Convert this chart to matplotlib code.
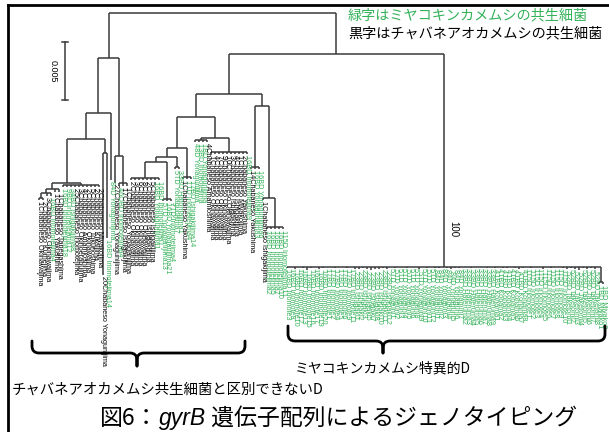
import matplotlib.pyplot as plt
from matplotlib.path import Path
from matplotlib.patches import PathPatch

plt.rcParams['font.family'] = ['Noto Sans CJK JP', 'DejaVu Sans']

GREEN = '#35b25a'
LINE = '#3a3a3a'
LABEL_FONT = 'Liberation Sans'

# gyrB tree, left part (Newick, branch lengths in substitutions/site)
newick_a = """
(
 (
  (
   (
    (
     (
      (1Chabaneso_Okinawajima:0.00017, 2Chabaneso_Kumejima:0.00017):0.00043,
      3Chabaneso_Okinawajima:0.00026, 16BD_Iriomotejima4:0.00026
     ):0.00034,
     1Chabaneso_Yakushima:0.00026, 1Chabaneso_Tanegashima:0.00026
    ):0.00052,
    (16BD_Iriomotejima18:0.00017, 9BD_Iriomotejima12:0.00017, 34BD_Ishigakijima8:0.00017,
     25Chabaneso_Iriomotejima:0.00017, 3Chabaneso_Okinoerabujima:0.00017,
     4Chabaneso_Amamioshima:0.00017, 2Chabaneso_Okinawajima:0.00017,
     5Chabaneso_Tokunoshima:0.00017, 2Chabaneso_Kikaijima:0.00017,
     2Chabaneso_Miyakojima:0.00017):0.00017
   ):0.00379,
   (20Chabaneso_Yonagunijima:0.01052, 16BD_Iriomotejima14:0.00733):0.00121
  ):0.00224,
  84D_Yonagunijima:0.00578
 ):0.00474,
 (27Chabaneso_Yonagunijima:0.00233,
  (46OBD_Iriomotejima4:0.00026, 17Chabaneso_Ishigakijima:0.00026,
   1Chabaneso_Yonagunijima:0.00026):0.00233
 ):0.00845
):0.00388
"""

newick_b1 = """
(
 (
  (
   (
    (
     (2Chabaneso_Okinawajima:0.00017, 3Chabaneso_Okinawajima:0.00017,
      6Chabaneso_Okinawajima:0.00017, 8Chabaneso_Okinawajima:0.00017,
      2Chabaneso_Ishigakijima:0.00017, 5Chabaneso_Ishigakijima:0.00017,
      16BD_Yonagunijima1:0.00017, 16BD_Iriomotejima1:0.00017):0.00138,
     (5TD_Yonagunijima13:0.00017, 16BD_Yonagunijima21:0.00017,
      7TD_Iriomotejima4:0.00017):0.00319
    ):0.00043,
    (5TD_Yonagunijima7:0.00017, 33BD_Hatomajima1:0.00017):0.00086
   ):0.00078,
   (1Chabaneso_Yakushima:0.00017, 1TD_Iriomotejima4:0.00017,
    17BD_Ishigakijima14:0.00017):0.00250
  ):0.00267,
  (
   (48D_Yonagunijima:0.00017, 13BD_Iriomotejima:0.00017, 1BD_Yonagunijima:0.00017,
    4Chabaneso_Amamioshima:0.00017):0.00017,
   (1Chabaneso_Okinawajima:0.00017, 4Chabaneso_Okinawajima:0.00017,
    7Chabaneso_Okinawajima:0.00017, 9Chabaneso_Okinawajima:0.00017,
    10Chabaneso_Okinawajima:0.00017, 3Chabaneso_Ishigakijima:0.00017,
    4Chabaneso_Ishigakijima:0.00017, 1Chabaneso_Miyakojima:0.00017,
    2Chabaneso_Yakushima:0.00017, 16BD_Iriomotejima9:0.00017):0.00121
  ):0.00181
 ):0.00198,
 (
  (14Chabaneso_Yakushima:0.00017, 16BD_Yonagunijima3:0.00017,
   16BD_Yonagunijima6:0.00017):0.00526,
  (1Chabaneso_Ishigakijima:0.00017,
   (16BD_Iriomotejima2:0.00017, 16BD_Iriomotejima5:0.00017, 16BD_Iriomotejima7:0.00017,
    16BD_Iriomotejima10:0.00017, 115D_Iriomotejima11:0.00017):0.00250
  ):0.00793
 ):0.00103
):0.00345
"""

# Miyako-specific clade: nearly identical sequences
miyako_groups = [
    ("16BD Iriomote", [3, 8, 10, 12, 13, 15, 16, 17, 19, 20]),
    ("17BD Iriomote", [1, 2, 4, 5, 6, 9, 11]),
    ("23BD Ishigaki", [1, 2, 3, 5, 7, 8, 10, 11, 12]),
    ("5TD Yonaguni", [1, 2, 3, 4, 5, 6, 8, 9, 10, 11, 12]),
    ("84D Yonaguni", [1, 2, 3, 4, 5, 6, 7]),
    ("33BD Hateruma", [2, 3, 4, 5, 6, 7, 8, 9]),
    ("41BD Kohama", [1, 2, 3, 4, 5, 6, 7, 8]),
    ("115D Iriomote", [1, 2, 3, 4, 5, 6, 7, 8, 9, 10]),
    ("52BD Taketomi", [1, 2, 3, 4, 5, 6, 7, 8]),
]
# tip lengths inside the clade, x 1e-4
miyako_tips = [
    1, 0, 2, 0, 1, 3, 1, 0, 2, 1,
    0, 0, 1, 0, 0, 1, 0,
    2, 2, 1, 2, 3, 2, 2, 1, 2,
    0, 1, 0, 0, 1, 0, 0, 2, 0, 1, 0,
    1, 1, 0, 1, 2, 1, 1,
    0, 0, 1, 0, 0, 0, 1, 0,
    1, 0, 1, 1, 0, 1, 2, 1,
    0, 1, 0, 0, 2, 0, 1, 0, 0, 1,
    2, 1, 2, 3, 1, 2, 1, 2,
]
miyako_outer = ["1BD Miyako1", "1BD Miyako2"]
miyako_outer_stem = 0.00129
miyako_stem = 0.01836
miyako_bootstrap = 100
stem_b = 0.00353
scale_length = 0.005


def parse_newick(text):
    s = "".join(text.split())
    pos = 0

    def node():
        nonlocal pos
        children = []
        if s[pos] == '(':
            pos += 1
            while True:
                children.append(node())
                if s[pos] == ',':
                    pos += 1
                    continue
                pos += 1
                break
        start = pos
        while pos < len(s) and s[pos] not in ':,();':
            pos += 1
        name = s[start:pos].replace('_', ' ')
        bl = 0.0
        if pos < len(s) and s[pos] == ':':
            pos += 1
            start = pos
            while pos < len(s) and s[pos] not in ',();':
                pos += 1
            bl = float(s[start:pos])
        return {'name': name, 'bl': bl, 'children': children}

    return node()


def leaf(name, bl):
    return {'name': name, 'bl': bl, 'children': []}


comb_children = []
tips = iter(miyako_tips)
for prefix, ids in miyako_groups:
    for k in ids:
        comb_children.append(leaf(f"{prefix}{k}", next(tips) * 1e-4))
comb_children.append({'name': '', 'bl': miyako_outer_stem,
                      'children': [leaf(n, 0.00017) for n in miyako_outer]})
comb = {'name': '', 'bl': miyako_stem, 'children': comb_children}

tree_b = {'name': '', 'bl': stem_b, 'children': [parse_newick(newick_b1), comb]}
root = {'name': '', 'bl': 0.0, 'children': [parse_newick(newick_a), tree_b]}


def layout(n, depth, leaves):
    n['y'] = depth + n['bl']
    if not n['children']:
        n['x'] = len(leaves)
        leaves.append(n)
    else:
        for c in n['children']:
            layout(c, n['y'], leaves)
        n['x'] = (n['children'][0]['x'] + n['children'][-1]['x']) / 2


leaves = []
layout(root, 0.0, leaves)

fig = plt.figure(figsize=(6.09, 4.32), dpi=100)

# tree axes: x = leaf index, y = distance from root (downwards)
LEAF_PX, X0_PX, Y0_PX = 4.0, 39, 13
PX_PER_UNIT = 58 / scale_length
ax = fig.add_axes([0, 0, 1, 1])
ax.axis('off')
ax.set_xlim(-X0_PX / LEAF_PX, (609 - X0_PX) / LEAF_PX)
ax.set_ylim((432 - Y0_PX) / PX_PER_UNIT, -Y0_PX / PX_PER_UNIT)


def draw(n):
    if not n['children']:
        return
    ax.plot([n['children'][0]['x'], n['children'][-1]['x']], [n['y'], n['y']],
            color=LINE, lw=1.1, solid_capstyle='butt')
    for c in n['children']:
        ax.plot([c['x'], c['x']], [n['y'], c['y']], color=LINE, lw=1.1,
                solid_capstyle='butt')
        draw(c)


draw(root)

for lf in leaves:
    col = 'black' if 'Chabaneso' in lf['name'] else GREEN
    ax.text(lf['x'], lf['y'] + 0.00012, lf['name'], rotation=270, ha='center', va='top',
            fontsize=5.2, color=col, family=LABEL_FONT)

# bootstrap value on the Miyako clade stem
ax.annotate(str(miyako_bootstrap), xy=(comb['x'], comb['y'] - 0.0033),
            xytext=(3, 0), textcoords='offset points', rotation=270,
            ha='left', va='center', fontsize=7, family=LABEL_FONT)

# scale bar
sb_x, sb_y = 6.5, 0.0025
ax.plot([sb_x, sb_x], [sb_y, sb_y + scale_length], color=LINE, lw=1.1)
for yy in (sb_y, sb_y + scale_length):
    ax.plot([sb_x - 0.7, sb_x + 0.7], [yy, yy], color=LINE, lw=1.1)
ax.annotate(f"{scale_length:g}", xy=(sb_x, sb_y + scale_length / 2), xytext=(-5, 0),
            textcoords='offset points', rotation=270, ha='right', va='center',
            fontsize=6.5, family=LABEL_FONT)

# overlay in pixel units for frame, braces and captions
ov = fig.add_axes([0, 0, 1, 1], facecolor='none')
ov.axis('off')
ov.set_xlim(0, 609)
ov.set_ylim(432, 0)
ov.plot([8, 8], [5, 432], color='black', lw=2)
ov.plot([8, 609], [5, 5], color='black', lw=2)


def brace(x0, x1, xt, y_end, y_bar, y_tip, r=7):
    verts = [(x0, y_end), (x0, y_bar - r), (x0, y_bar), (x0 + r, y_bar),
             (xt - r, y_bar), (xt, y_bar), (xt, y_bar + r), (xt, y_tip),
             (xt, y_bar + r), (xt, y_bar), (xt + r, y_bar),
             (x1 - r, y_bar), (x1, y_bar), (x1, y_bar - r), (x1, y_end)]
    codes = [Path.MOVETO, Path.LINETO, Path.CURVE3, Path.CURVE3,
             Path.LINETO, Path.CURVE3, Path.CURVE3, Path.LINETO,
             Path.LINETO, Path.CURVE3, Path.CURVE3,
             Path.LINETO, Path.CURVE3, Path.CURVE3, Path.LINETO]
    ov.add_patch(PathPatch(Path(verts, codes), fill=False, lw=2, color='black',
                           capstyle='round', joinstyle='round'))


brace(32, 245, 137, 341, 353, 366)
brace(288, 605, 383, 326, 341, 353)

ov.text(295, 368, "ミヤコキンカメムシ特異的D", fontsize=10, va='center', ha='left')
ov.text(12, 390, "チャバネアオカメムシ共生細菌と区別できないD", fontsize=10.4,
        va='center', ha='left')
ov.text(348, 15, "緑字はミヤコキンカメムシの共生細菌", fontsize=10.2, color=GREEN,
        va='center', ha='left')
ov.text(348, 33, "黒字はチャバネアオカメムシの共生細菌", fontsize=10.2, color='black',
        va='center', ha='left')

renderer = fig.canvas.get_renderer()
x = 100
for part, kw in [("図6：", {}),
                 ("gyrB", {'family': LABEL_FONT, 'style': 'italic'}),
                 (" 遺伝子配列によるジェノタイピング", {})]:
    t = ov.text(x, 425, part, fontsize=16.5, va='baseline', ha='left', **kw)
    x += t.get_window_extent(renderer).width

fig.savefig('out.png', dpi=100)
